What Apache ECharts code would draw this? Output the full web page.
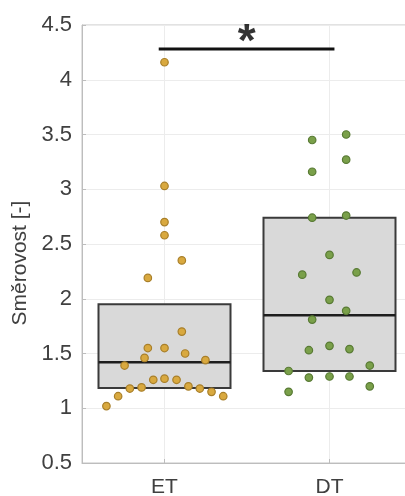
<!DOCTYPE html>
<html>
<head>
<meta charset="utf-8">
<script src="https://cdn.jsdelivr.net/npm/echarts@6/dist/echarts.min.js"></script>
<style>html,body{margin:0;padding:0;background:#fff;}#c{width:405px;height:496px;}</style>
</head>
<body>
<div id="c"></div>
<script>
// ---- data ----
const categories = ['ET', 'DT'];
const yAxisName = 'Směrovost [-]';
const etValues  = [4.16, 3.03, 2.70, 2.58, 2.35, 2.19, 1.70, 1.55, 1.55, 1.50, 1.46, 1.44, 1.39, 1.27, 1.26, 1.26, 1.20, 1.19, 1.18, 1.18, 1.15, 1.11, 1.11, 1.02];
const etOffsets = [0, 0, 0, 0, 0.105, -0.101, 0.105, -0.101, 0, 0.125, -0.121, 0.248, -0.242, 0, -0.068, 0.073, 0.145, -0.139, -0.21, 0.214, 0.285, 0.356, -0.281, -0.352];
const dtValues  = [3.50, 3.45, 3.27, 3.16, 2.76, 2.74, 2.40, 2.24, 2.22, 1.99, 1.89, 1.81, 1.57, 1.54, 1.53, 1.39, 1.34, 1.29, 1.29, 1.28, 1.20, 1.15];
const dtOffsets = [0.101, -0.105, 0.101, -0.105, 0.101, -0.105, 0, 0.164, -0.165, 0, 0.101, -0.105, 0, 0.121, -0.125, 0.244, -0.248, 0, 0.121, -0.125, 0.244, -0.248];
const boxQ1     = [1.185, 1.34];
const boxMedian = [1.42, 1.85];
const boxQ3     = [1.95, 2.74];
const sigX      = [0.965, 2.03];
const sigY      = 4.28;
const sigLabel  = '*';

// ---- build ----
const TXT = '#404040';
const FONT = 'Liberation Sans, Arial, sans-serif';
const etPts = etValues.map((v, i) => [1 + etOffsets[i], v]);
const dtPts = dtValues.map((v, i) => [2 + dtOffsets[i], v]);
const boxData = categories.map((c, i) => [i + 1, boxQ1[i], boxMedian[i], boxQ3[i]]);

const chart = echarts.init(document.getElementById('c'), null, {renderer: 'canvas'});
chart.setOption({
  backgroundColor: '#fff',
  animation: false,
  grid: {left: 82, top: 25, width: 330, height: 438, containLabel: false, outerBoundsMode: 'none',
         show: true, borderColor: '#c4c4c4', borderWidth: 1},
  xAxis: {
    type: 'value', min: 0.5, max: 2.5,
    axisLine: {show: true, lineStyle: {color: '#bdbdbd', width: 1}},
    axisTick: {show: true, inside: true, length: 4, customValues: [1, 2], lineStyle: {color: '#bdbdbd'}},
    axisLabel: {customValues: [1, 2], formatter: v => categories[Math.round(v) - 1] || '', color: TXT, fontSize: 21, fontFamily: FONT, margin: 14},
    splitLine: {show: true, lineStyle: {color: '#ececec', width: 1}}
  },
  yAxis: {
    type: 'value', min: 0.5, max: 4.5, interval: 0.5,
    name: yAxisName, nameLocation: 'middle', nameGap: 50,
    nameTextStyle: {color: TXT, fontSize: 21, fontFamily: FONT, padding: [0, 38, 0, 0]},
    axisLine: {show: true, lineStyle: {color: '#bdbdbd', width: 1}},
    axisTick: {show: true, inside: true, length: 4, lineStyle: {color: '#bdbdbd'}},
    axisLabel: {color: TXT, fontSize: 22, fontFamily: FONT, margin: 10},
    splitLine: {show: true, lineStyle: {color: '#ececec', width: 1}}
  },
  series: [
    {
      type: 'custom', data: boxData, z: 2,
      renderItem: (params, api) => {
        const x = api.value(0), q1 = api.value(1), med = api.value(2), q3 = api.value(3);
        const tl = api.coord([x - 0.4, q3]);
        const br = api.coord([x + 0.4, q1]);
        const ml = api.coord([x - 0.4, med]);
        const mr = api.coord([x + 0.4, med]);
        return {type: 'group', children: [
          {type: 'rect', shape: {x: tl[0], y: tl[1], width: br[0] - tl[0], height: br[1] - tl[1]},
           style: {fill: '#d9d9d9', stroke: '#3a3a3a', lineWidth: 2}},
          {type: 'line', shape: {x1: ml[0], y1: ml[1], x2: mr[0], y2: mr[1]},
           style: {stroke: '#1e1e1e', lineWidth: 2.5}}
        ]};
      }
    },
    {
      type: 'scatter', data: etPts, symbol: 'circle', symbolSize: 7.5, z: 3,
      itemStyle: {color: '#d9a93f', borderColor: '#a87f2a', borderWidth: 1.2, opacity: 1}
    },
    {
      type: 'scatter', data: dtPts, symbol: 'circle', symbolSize: 7.5, z: 3,
      itemStyle: {color: '#7aa04a', borderColor: '#587a34', borderWidth: 1.2, opacity: 1}
    },
    {
      type: 'line', data: [[sigX[0], sigY], [sigX[1], sigY]], showSymbol: false, symbol: 'none', z: 4,
      lineStyle: {color: '#111', width: 3}, clip: false, silent: true
    },
    {
      type: 'scatter', data: [[(sigX[0] + sigX[1]) / 2, sigY]], symbolSize: 0, z: 5, clip: false, silent: true,
      label: {show: true, formatter: sigLabel, position: 'inside', offset: [0, -6],
              fontSize: 46, fontWeight: 'bold', color: '#000', fontFamily: FONT}
    }
  ]
});
</script>
</body>
</html>
